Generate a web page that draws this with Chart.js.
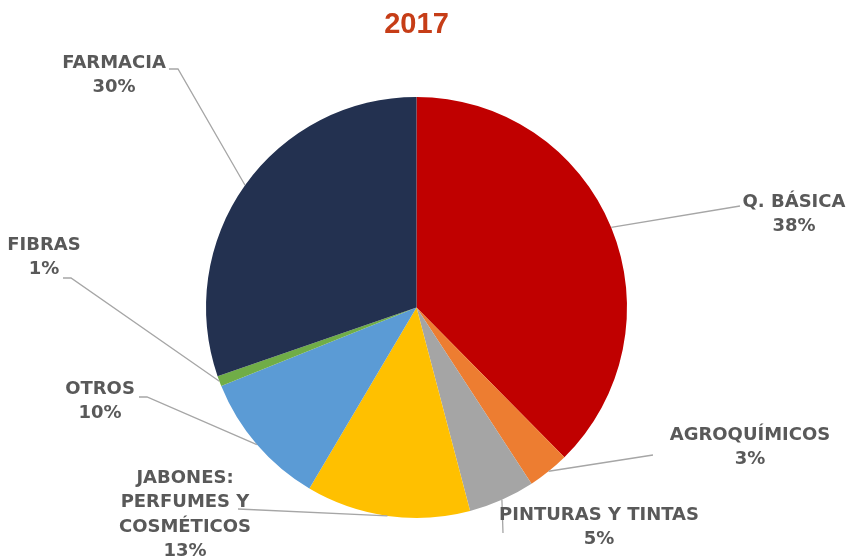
<!DOCTYPE html>
<html>
<head>
<meta charset="utf-8">
<script src="https://cdn.jsdelivr.net/npm/chart.js@4.4.1/dist/chart.umd.min.js"></script>
<style>
  html, body { margin: 0; padding: 0; background: #ffffff; }
  #wrap { width: 849px; height: 560px; }
</style>
</head>
<body>
<div id="wrap"><canvas id="pie2017" width="849" height="560"></canvas></div>
<script>
// datos del gráfico
const chartTitle = "2017";
const categories = ["Q. BÁSICA", "AGROQUÍMICOS", "PINTURAS Y TINTAS", "JABONES: PERFUMES Y COSMÉTICOS", "OTROS", "FIBRAS", "FARMACIA"];
const shares = [37.6, 3.2, 5.1, 12.6, 10.4, 0.8, 30.3];
const sliceColors = ["#C00000", "#ED7D31", "#A5A5A5", "#FFC000", "#5B9BD5", "#70AD47", "#233150"];

// posición de las etiquetas (centro del texto) y codos de las líneas guía
const labelLayout = [
    { lines: ["Q. BÁSICA"], x: 794, y: 202, path: [[740, 206]] },
    { lines: ["AGROQUÍMICOS"], x: 750, y: 435, path: [[653, 455]] },
    { lines: ["PINTURAS Y TINTAS"], x: 599, y: 515, path: [[503, 533]] },
    { lines: ["JABONES:", "PERFUMES Y", "COSMÉTICOS"], x: 185, y: 478, path: [[238, 509]] },
    { lines: ["OTROS"], x: 100, y: 389, path: [[147, 397], [139, 397]] },
    { lines: ["FIBRAS"], x: 44, y: 245, path: [[71, 278], [63, 278]] },
    { lines: ["FARMACIA"], x: 114, y: 63, path: [[178, 69], [169, 69]] }
];

const total = shares.reduce((a, b) => a + b, 0);

const leaderLabels = {
    id: "leaderLabels",
    afterDatasetsDraw(chart) {
        const c = chart.ctx;
        const arcs = chart.getDatasetMeta(0).data;
        c.save();
        arcs.forEach((arc, i) => {
            const p = arc.getProps(["x", "y", "startAngle", "endAngle", "outerRadius"], true);
            const mid = (p.startAngle + p.endAngle) / 2;
            const ex = p.x + Math.cos(mid) * p.outerRadius;
            const ey = p.y + Math.sin(mid) * p.outerRadius;
            const lay = labelLayout[i];
            // línea guía
            c.strokeStyle = "#A6A6A6";
            c.lineWidth = 1.3;
            c.beginPath();
            c.moveTo(ex, ey);
            lay.path.forEach(pt => c.lineTo(pt[0], pt[1]));
            c.stroke();
            // texto
            c.fillStyle = "#595959";
            c.font = "bold 18px 'DejaVu Sans'";
            c.textAlign = "center";
            c.textBaseline = "middle";
            const pct = Math.round(shares[i] / total * 100) + "%";
            const rows = lay.lines.concat([pct]);
            rows.forEach((t, k) => c.fillText(t, lay.x, lay.y + k * 24.5));
        });
        c.restore();
    }
};

new Chart(document.getElementById("pie2017"), {
    type: "pie",
    data: {
        labels: categories,
        datasets: [{
            data: shares,
            backgroundColor: sliceColors,
            borderWidth: 0,
            hoverOffset: 0
        }]
    },
    options: {
        responsive: false,
        animation: false,
        events: [],
        layout: {
            padding: { left: 206, right: 222, top: 0, bottom: 42 }
        },
        plugins: {
            legend: { display: false },
            tooltip: { enabled: false },
            title: {
                display: true,
                text: chartTitle,
                color: "#C63D17",
                font: { family: "'Liberation Sans', Arial, sans-serif", size: 29, weight: "bold", lineHeight: 1.2 },
                padding: { top: 8, bottom: 54 }
            }
        }
    },
    plugins: [leaderLabels]
});
</script>
</body>
</html>
